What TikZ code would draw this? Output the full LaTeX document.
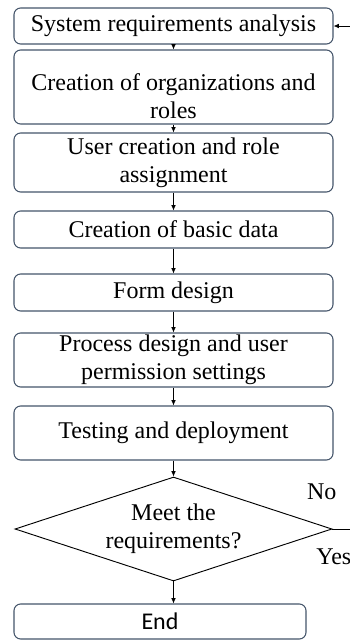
\documentclass[tikz,border=0pt]{standalone}
\usepackage{fontspec}
\setmainfont{Liberation Serif}
\newfontfamily\endfont{Carlito}
\usetikzlibrary{arrows.meta,positioning,shapes.geometric}

\definecolor{boxline}{HTML}{44546A}

\begin{document}
\begin{tikzpicture}[
    x=0.75pt,y=-0.75pt,
    every node/.style={font=\fontsize{18}{21}\selectfont,align=center},
    box/.style={draw=boxline,line width=0.8pt,rounded corners=5pt,minimum width=239.25pt,inner sep=1pt},
    decision/.style={draw,line width=0.7pt,diamond,aspect=3,minimum width=237.75pt,minimum height=78pt,inner sep=0pt},
    arrow/.style={-{Latex[length=4pt,width=3.5pt]},line width=0.6pt}
]
\useasboundingbox (0,0) rectangle (350,640);
\node[box,minimum height=27pt] (req) at (173.5,26) {System requirements analysis};
\node[box,minimum height=55.5pt] (org) at (173.5,87) {\rule{0pt}{26pt}Creation of organizations and\\roles};
\node[box,minimum height=44.25pt] (user) at (173.5,162.5) {User creation and role\\assignment};
\node[box,minimum height=27.75pt] (data) at (173.5,229.5) {Creation of basic data};
\node[box,minimum height=27.75pt] (form) at (173.5,292.5) {Form design};
\node[box,minimum height=40.5pt] (proc) at (173.5,360) {Process design and user\\permission settings};
\node[box,minimum height=40.5pt] (test) at (173.5,433) {Testing and deployment};
\node[decision] (meet) at (173.5,529) {Meet the\\requirements?};
\node[box,minimum width=219pt,minimum height=26.25pt,font=\endfont\fontsize{18}{21}\selectfont] (end) at (160,621.5) {End};
\node at ([shift={(-8pt,28pt)}]meet.east) (no) {No};
\node at ([shift={(1pt,-21pt)}]meet.east) (yes) {Yes};
\draw[arrow] (req) -- (org);
\draw[arrow] (org) -- (user);
\draw[arrow] (user) -- (data);
\draw[arrow] (data) -- (form);
\draw[arrow] (form) -- (proc);
\draw[arrow] (proc) -- (test);
\draw[arrow] (test) -- (meet);
\draw[arrow] (meet.south) -- (meet.south |- end.north);
\draw[arrow] (meet.east) -- ++(25pt,0) |- (req.east);
\end{tikzpicture}
\end{document}
